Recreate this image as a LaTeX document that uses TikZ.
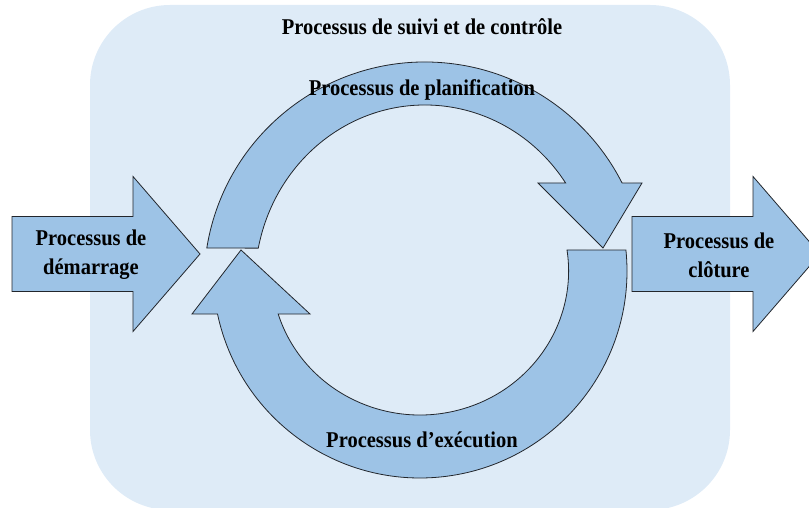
\documentclass[tikz,border=0pt]{standalone}
\usepackage{fontspec}
\setmainfont{Liberation Serif}
\usepackage{graphicx}
\usepackage{xcolor}
\usepackage{tikz}
\definecolor{cyclebg}{HTML}{DEEBF7}
\definecolor{arrowblue}{HTML}{9DC3E6}
\definecolor{edgedark}{HTML}{22262C}
\newcommand{\tallline}[1]{\scalebox{1}[1.1]{#1}}
\tikzset{
    % block arrows
    blockarrow/.style={draw=edgedark, fill=arrowblue, line width=0.8pt, line join=miter},
    background/.style={fill=cyclebg, rounded corners=80pt},
    % labels
    proclabel/.style={font=\bfseries\fontsize{20.5}{29}\selectfont, align=center, inner sep=0pt}
}
\begin{document}
\begin{tikzpicture}[x=1pt, y=1pt]
    \clip (0,0) rectangle (809,508);
    % Monitoring frame
    \fill[background] (90,-2) rectangle (730,503);
    \node[proclabel] (suivi) at (422,481) {\tallline{Processus de suivi et de contrôle}};

    % Initiating arrow
    \draw[blockarrow] (12,216.5) -- (12,291.5) -- (133,291.5) -- (133,331.5) -- (200,254)
        -- (133,176.5) -- (133,216.5) -- cycle;
    \node[proclabel] (demarrage) at (91,253) {\tallline{Processus de}\\\tallline{démarrage}};

    % Closing arrow
    \draw[blockarrow] (632,216.5) -- (632,291.5) -- (753,291.5) -- (753,331.5) -- (820,254)
        -- (753,176.5) -- (753,216.5) -- cycle;
    \node[proclabel] (cloture) at (719,253) {\tallline{Processus de}\\\tallline{clôture}};

    % Planning arc (top)
    \begin{scope}[shift={(425,225)}]
        \draw[blockarrow] (170.9:221) arc[start angle=170.9, end angle=26.9, radius=221]
            -- (217,100) -- (178,35) -- (113,100) -- (34.2:170 and 178)
            arc[start angle=34.2, end angle=168.7, x radius=170, y radius=178] -- cycle;
    \end{scope}
    \node[proclabel] (planif) at (422,418) {\tallline{Processus de planification}};

    % Executing arc (bottom)
    \begin{scope}[shift={(420,237)}]
        \draw[blockarrow] (5.8:207) arc[start angle=5.8, end angle=-168, radius=207]
            -- (-228,-43) -- (-179,21) -- (-110,-43) -- (-162.6:148.6 and 144)
            arc[start angle=-162.6, end angle=8.4, x radius=148.6, y radius=144] -- cycle;
    \end{scope}
    \node[proclabel] (execution) at (422,68) {\tallline{Processus d’exécution}};
\end{tikzpicture}
\end{document}
